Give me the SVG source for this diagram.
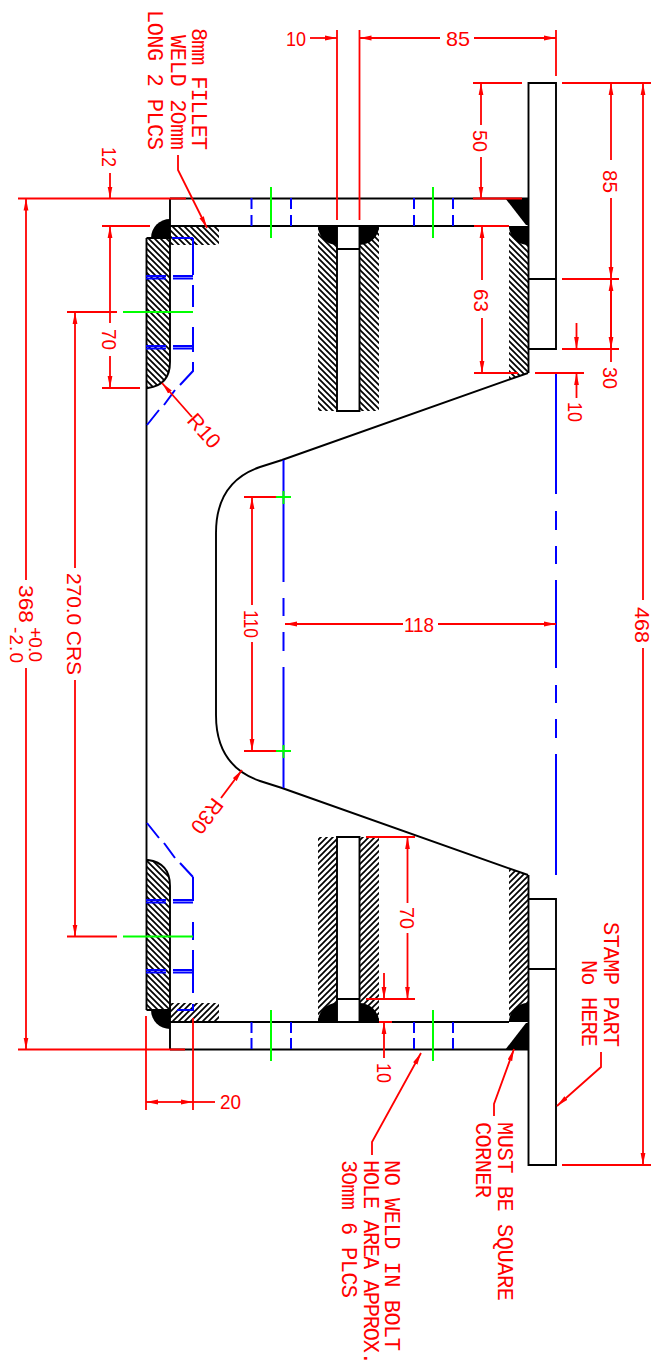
<svg xmlns="http://www.w3.org/2000/svg" width="667" height="1370" viewBox="0 0 667 1370">
<style>
.o{fill:none;stroke:#000;stroke-width:1.9}
.w{fill:#000;stroke:none}
.b{fill:none;stroke:#00f;stroke-width:2}
.g{fill:none;stroke:#0f0;stroke-width:2}
.r{fill:none;stroke:#f00;stroke-width:1.8}
.a{marker-end:url(#ar)}
text{fill:#f00;font-family:"Liberation Sans",Arial,sans-serif;font-size:21px}
.m{font-family:"Liberation Mono","Courier New",monospace;font-size:22px}
.z{font-family:"Liberation Sans",Arial,sans-serif}
</style>
<defs>
<marker id="ar" markerUnits="userSpaceOnUse" markerWidth="14" markerHeight="6" refX="12" refY="3" orient="auto"><path d="M0,0.6L12,3L0,5.4Z" fill="#f00"/></marker>
<pattern id="hb" patternUnits="userSpaceOnUse" width="6" height="6"><path d="M-1,-1L7,7M-1,5L1,7M5,-1L7,1" stroke="#000" stroke-width="1.7"/></pattern>
<pattern id="hf" patternUnits="userSpaceOnUse" width="6" height="6"><path d="M-1,7L7,-1M-1,1L1,-1M5,7L7,5" stroke="#000" stroke-width="1.7"/></pattern>
</defs>
<rect width="667" height="1370" fill="#fff"/>

<g id="hatching">
<path d="M146,238H170V362Q170,385 148,388H146Z" fill="url(#hb)"/>
<path d="M146,1010H170V886Q170,863 148,860H146Z" fill="url(#hb)"/>
<rect x="170" y="226" width="49" height="19" fill="url(#hb)"/>
<rect x="170" y="1003" width="49" height="19" fill="url(#hf)"/>
<rect x="318" y="226" width="19" height="185" fill="url(#hb)"/>
<rect x="359" y="226" width="20" height="185" fill="url(#hb)"/>
<rect x="318" y="837" width="19" height="185" fill="url(#hf)"/>
<rect x="359" y="837" width="20" height="185" fill="url(#hf)"/>
<path d="M509,226H528V373L511,379H509Z" fill="url(#hb)"/>
<path d="M509,1022H528V875L511,869H509Z" fill="url(#hf)"/>
</g>

<g id="welds">
<path class="w" d="M170,219V238H151A19,19 0 0 1 170,219Z"/>
<path class="w" d="M170,1029V1010H151A19,19 0 0 0 170,1029Z"/>
<path class="w" d="M318,226H337V245A19,19 0 0 1 318,226Z"/>
<path class="w" d="M379,226H359V245A20,19 0 0 0 379,226Z"/>
<path class="w" d="M318,1022H337V1003A19,19 0 0 0 318,1022Z"/>
<path class="w" d="M379,1022H359V1003A20,19 0 0 1 379,1022Z"/>
<path class="w" d="M509,226H528V245A19,19 0 0 1 509,226Z"/>
<path class="w" d="M509,1022H528V1003A19,19 0 0 0 509,1022Z"/>
<path class="w" d="M505,198H529V225H526Z"/>
<path class="w" d="M505,1050H529V1023H526Z"/>
</g>

<g id="body">
<path class="o" d="M146.500,238V1010"/>
<path class="o" d="M170,238V362Q170,385 148,388H146.500"/>
<path class="o" d="M170,1010V886Q170,863 148,860H146.500"/>
<path class="o" d="M146.500,238H170M146.500,1010H170"/>
<path class="o" d="M170,198.500V238M170,1010V1049.500"/>
<path class="o" d="M170,198.500H528M170,226H509"/>
<path class="o" d="M170,1049.500H528M170,1022H509"/>
<path class="o" d="M528,373L282,460L260,467Q216,482 216,533V715Q216,766 260,781L282,788L528,875"/>
</g>

<g id="web-top">
<path class="o" d="M337,226V411H359.500V226M337,249H359.500"/>
</g>
<g id="web-bottom">
<path class="o" d="M337,1022V837H359.500V1022M337,999H359.500"/>
</g>
<g id="flange">
<path class="o" d="M528.500,373V83H556V349H528.500M528.500,279H556"/>
<path class="o" d="M528.500,875V1165H556V899H528.500M528.500,969H556"/>
</g>

<g id="hidden-lines">
<path class="b" d="M193,238V275M193,285V307M193,327V352M193,362V371L180,385M175,390L164,405M159,410L147,425"/>
<path class="b" d="M172,238H193M146,276H166M173,276H193M146,278.500H166M173,278.500H193M146,346H166M173,346H193M146,348.500H166M173,348.500H193"/>
<path class="b" d="M193,877V901M193,922V940M193,950V993M193,1004V1010H177"/>
<path class="b" d="M147,823L159,838M164,843L175,858M180,863L193,877"/>
<path class="b" d="M146,900H166M173,900H193M146,902.500H166M173,902.500H193M146,970H166M173,970H193M146,972.500H166M173,972.500H193"/>
<path class="b" d="M251.500,198V209M251.500,215V226M291,198V209M291,215V226M414,198V209M414,215V226M453,198V209M453,215V226"/>
<path class="b" d="M251.500,1022V1033M251.500,1038V1049M291,1022V1033M291,1038V1049M414,1022V1033M414,1038V1049M453,1022V1033M453,1038V1049"/>
<path class="b" d="M283.500,460V582M283.500,598V616M283.500,632V651M283.500,667V788"/>
<path class="b" d="M556,373V494M556,511V530M556,546V564M556,580V668M556,685V703M556,719V738M556,754V875"/>
</g>

<g id="center-lines">
<path class="g" d="M271,187V238M433,187V238M271,1010V1061M433,1010V1061"/>
<path class="g" d="M123,312H193M123,936.500H193"/>
<path class="g" d="M276,497H291M283.500,491V504M276,751H291M283.500,745V758"/>
</g>

<g id="connectors">
<path class="r" d="M18,198.500H186M18,1049.500H185M102,226H150M102,388H140M67,312H117M67,936.500H117"/>
<path class="r" d="M473,83H522M562,83H651M473,198.500H522M474,226H509M474,373H518M535,373H584M562,279H619M562,349H619M562,1165H651"/>
<path class="r" d="M244,497H276M244,751H276M366,837H415M366,999H415M379,1022H392"/>
<path class="r" d="M337,30V220M359.500,30V220M556,30V76M146,1016V1110M193,1018V1110"/>
<path class="r a" d="M310,38H337"/>
<path class="r a" d="M440,38H359.500"/>
<path class="r a" d="M474,38H556"/>
<path class="r a" d="M26,580V198.500"/>
<path class="r a" d="M26,668V1049.500"/>
<path class="r a" d="M75,568V312"/>
<path class="r a" d="M75,680V936.500"/>
<path class="r a" d="M110,173V198.500"/>
<path class="r a" d="M110,323V226"/>
<path class="r a" d="M110,356V388"/>
<path class="r a" d="M252,605V497"/>
<path class="r a" d="M252,642V751"/>
<path class="r a" d="M481,125V83"/>
<path class="r a" d="M481,157V198.500"/>
<path class="r a" d="M482,280V226"/>
<path class="r a" d="M482,318V373"/>
<path class="r a" d="M611,160V83"/>
<path class="r a" d="M611,198V279"/>
<path class="r a" d="M611,362V279"/>
<path class="r a" d="M611,279V349"/>
<path class="r a" d="M576.500,323V349"/>
<path class="r a" d="M576.500,398V373"/>
<path class="r a" d="M643,600V83"/>
<path class="r a" d="M643,648V1165"/>
<path class="r a" d="M403,624H285"/>
<path class="r a" d="M438,624H556"/>
<path class="r a" d="M407.500,903V837"/>
<path class="r a" d="M407.500,933V999"/>
<path class="r a" d="M384,973V999"/>
<path class="r a" d="M384,1058V1022"/>
<path class="r a" d="M170,1102H146"/>
<path class="r a" d="M170,1102H193"/>
<path class="r" d="M193,1102H215"/>
<path class="r a" d="M178,155V170L207,228"/>
<path class="r a" d="M192,417L162,383"/>
<path class="r a" d="M221,798L242,770"/>
<path class="r a" d="M372,1155V1142L421,1053"/>
<path class="r a" d="M494,1116V1104L514,1049"/>
<path class="r a" d="M601,1052V1067L557,1106"/>
</g>

<g id="labels">
<text class="m" transform="translate(191.500,28) rotate(90)" textLength="122">8mm FILLET</text>
<text class="m" transform="translate(171,35) rotate(90)" textLength="115">WELD 2<tspan class="z">0</tspan>mm</text>
<text class="m" transform="translate(148,10) rotate(90)" textLength="140">LONG 2 PLCS</text>
<text transform="translate(102,147) rotate(90)" textLength="20" lengthAdjust="spacingAndGlyphs">12</text>
<text transform="translate(102,329) rotate(90)" textLength="21" lengthAdjust="spacingAndGlyphs">70</text>
<text transform="translate(67,573) rotate(90)" textLength="102">270.0 CRS</text>
<text transform="translate(18.500,585) rotate(90)" textLength="38" lengthAdjust="spacingAndGlyphs">368</text>
<text style="font-size:19px" transform="translate(28.500,627) rotate(90)" textLength="35">+0.0</text>
<text style="font-size:19px" transform="translate(9.500,627) rotate(90)" textLength="36">-2.0</text>
<text transform="translate(244,610) rotate(90)" textLength="28" lengthAdjust="spacingAndGlyphs">110</text>
<text transform="translate(473,130) rotate(90)" textLength="22" lengthAdjust="spacingAndGlyphs">50</text>
<text transform="translate(474,289) rotate(90)" textLength="23" lengthAdjust="spacingAndGlyphs">63</text>
<text transform="translate(603,170) rotate(90)" textLength="23" lengthAdjust="spacingAndGlyphs">85</text>
<text transform="translate(603,367) rotate(90)" textLength="22" lengthAdjust="spacingAndGlyphs">30</text>
<text transform="translate(568,402) rotate(90)" textLength="20" lengthAdjust="spacingAndGlyphs">10</text>
<text transform="translate(635,607) rotate(90)" textLength="36" lengthAdjust="spacingAndGlyphs">468</text>
<text transform="translate(400,907) rotate(90)" textLength="22" lengthAdjust="spacingAndGlyphs">70</text>
<text transform="translate(377,1063) rotate(90)" textLength="20" lengthAdjust="spacingAndGlyphs">10</text>
<text x="286" y="46" textLength="20" lengthAdjust="spacingAndGlyphs">10</text>
<text x="446" y="46" textLength="24" lengthAdjust="spacingAndGlyphs">85</text>
<text x="404" y="632" textLength="30" lengthAdjust="spacingAndGlyphs">118</text>
<text x="220" y="1109" textLength="21" lengthAdjust="spacingAndGlyphs">20</text>
<text transform="translate(204,431) rotate(48)" text-anchor="middle" dy="7">R10</text>
<text transform="translate(207,816) rotate(127)" text-anchor="middle" dy="7">R30</text>
<text class="m" transform="translate(385,1160) rotate(90)" textLength="191">NO WELD IN BOLT</text>
<text class="m" transform="translate(363.500,1160) rotate(90)" textLength="205">HOLE AREA APPROX.</text>
<text class="m" transform="translate(342,1160) rotate(90)" textLength="138">3<tspan class="z">0</tspan>mm 6 PLCS</text>
<text class="m" transform="translate(497.500,1122) rotate(90)" textLength="179">MUST BE SQUARE</text>
<text class="m" transform="translate(475.500,1122) rotate(90)" textLength="76">CORNER</text>
<text class="m" transform="translate(603.500,922) rotate(90)" textLength="125">STAMP PART</text>
<text class="m" transform="translate(582,960) rotate(90)" textLength="87">No HERE</text>
</g>
</svg>
